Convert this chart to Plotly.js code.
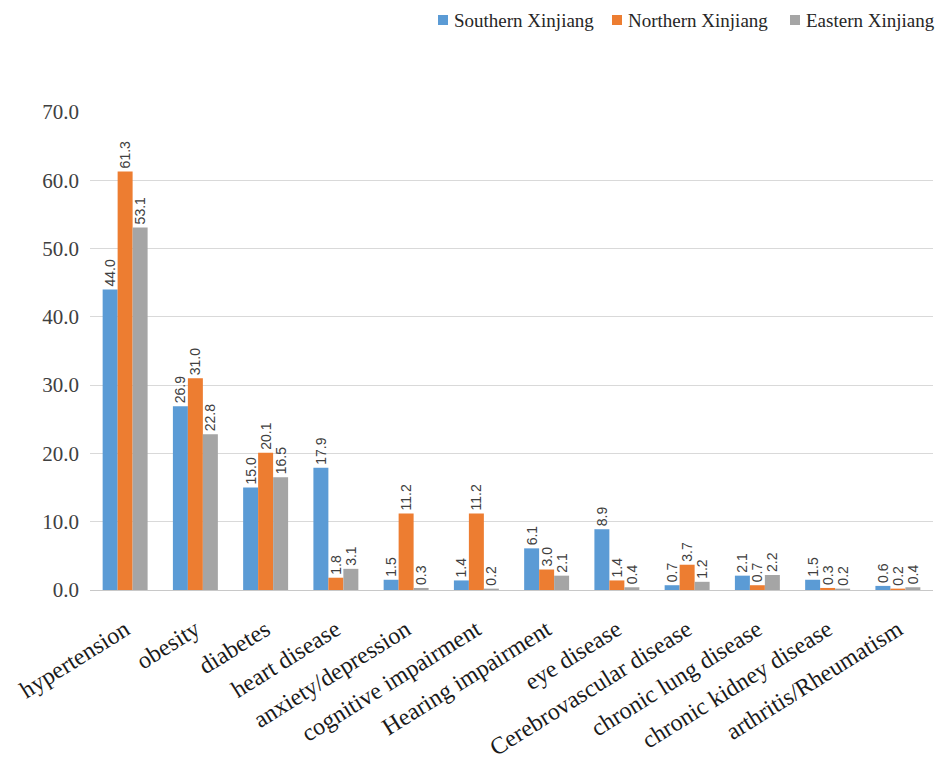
<!DOCTYPE html>
<html>
<head>
<meta charset="utf-8">
<script src="https://cdn.plot.ly/plotly-3.0.1.min.js"></script>
<style>
  html, body { margin: 0; padding: 0; background: #fff; }
  #chart { width: 936px; height: 763px; }
</style>
</head>
<body>
<div id="chart"></div>
<script>
// Prevalence of chronic conditions by region (%)
const categories = [
  "hypertension", "obesity", "diabetes", "heart disease",
  "anxiety/depression", "cognitive impairment", "Hearing impairment",
  "eye disease", "Cerebrovascular disease", "chronic lung disease",
  "chronic kidney disease", "arthritis/Rheumatism"
];
const southern = [44.0, 26.9, 15.0, 17.9, 1.5, 1.4, 6.1, 8.9, 0.7, 2.1, 1.5, 0.6];
const northern = [61.3, 31.0, 20.1, 1.8, 11.2, 11.2, 3.0, 1.4, 3.7, 0.7, 0.3, 0.2];
const eastern  = [53.1, 22.8, 16.5, 3.1, 0.3, 0.2, 2.1, 0.4, 1.2, 2.2, 0.2, 0.4];
const seriesNames = ["Southern Xinjiang", "Northern Xinjiang", "Eastern Xinjiang"];
const yTicks = [0, 10, 20, 30, 40, 50, 60, 70];

const colors = ["#5B9BD5", "#ED7D31", "#A5A5A5"];
const serif = "Liberation Serif";

const traces = [southern, northern, eastern].map((vals, i) => ({
  type: "bar",
  name: seriesNames[i],
  x: categories,
  y: vals,
  marker: { color: colors[i] },
  text: vals.map(v => v.toFixed(1)),
  textposition: "outside",
  textangle: -90,
  constraintext: "none",
  cliponaxis: false,
  textfont: { family: "Liberation Sans", size: 14, color: "#404040" },
  hoverinfo: "x+y+name"
}));

// Legend row drawn as square swatches plus labels across the top
const legendX = [438, 612, 790];   // px from the left edge
const legendY = 20;                // px from the top edge
const W = 936, H = 763;
const mL = 90, mR = 3, mT = 112, mB = 173;
const pw = W - mL - mR, ph = H - mT - mB;
const toPaperX = px => (px - mL) / pw;
const toPaperY = py => (H - mB - py) / ph;

const legendShapes = seriesNames.map((n, i) => ({
  type: "rect", xref: "paper", yref: "paper",
  x0: toPaperX(legendX[i]), x1: toPaperX(legendX[i] + 10),
  y0: toPaperY(legendY + 5), y1: toPaperY(legendY - 5),
  fillcolor: colors[i], line: { width: 0 }
}));
const legendLabels = seriesNames.map((n, i) => ({
  text: n, showarrow: false, xref: "paper", yref: "paper",
  x: toPaperX(legendX[i] + 14), y: toPaperY(legendY),
  xanchor: "left", yanchor: "middle",
  font: { family: "Liberation Serif, serif", size: 19, color: "#262626" }
}));

const layout = {
  width: W,
  height: H,
  margin: { l: mL, r: mR, t: mT, b: mB },
  paper_bgcolor: "#ffffff",
  plot_bgcolor: "#ffffff",
  barmode: "group",
  bargap: 0.36,
  bargroupgap: 0,
  showlegend: false,
  shapes: legendShapes,
  annotations: legendLabels,
  xaxis: {
    type: "category",
    tickangle: -32,
    tickfont: { family: serif, size: 24, color: "#1a1a1a" },
    showgrid: false,
    showline: false,
    ticks: "",
    ticklabelstandoff: 20,
    automargin: false
  },
  yaxis: {
    range: [0, 70],
    tickvals: yTicks,
    ticktext: yTicks.map(v => v.toFixed(1)),
    tickfont: { family: serif, size: 21, color: "#404040" },
    showgrid: true,
    gridcolor: "#d9d9d9",
    gridwidth: 1,
    zeroline: true,
    zerolinecolor: "#c8c8c8",
    zerolinewidth: 1,
    showline: false,
    ticks: "",
    ticklabelstandoff: 10,
    automargin: false
  },
  font: { family: "Liberation Serif, serif" }
};

Plotly.newPlot("chart", traces, layout, { displayModeBar: false, staticPlot: true });
</script>
</body>
</html>
